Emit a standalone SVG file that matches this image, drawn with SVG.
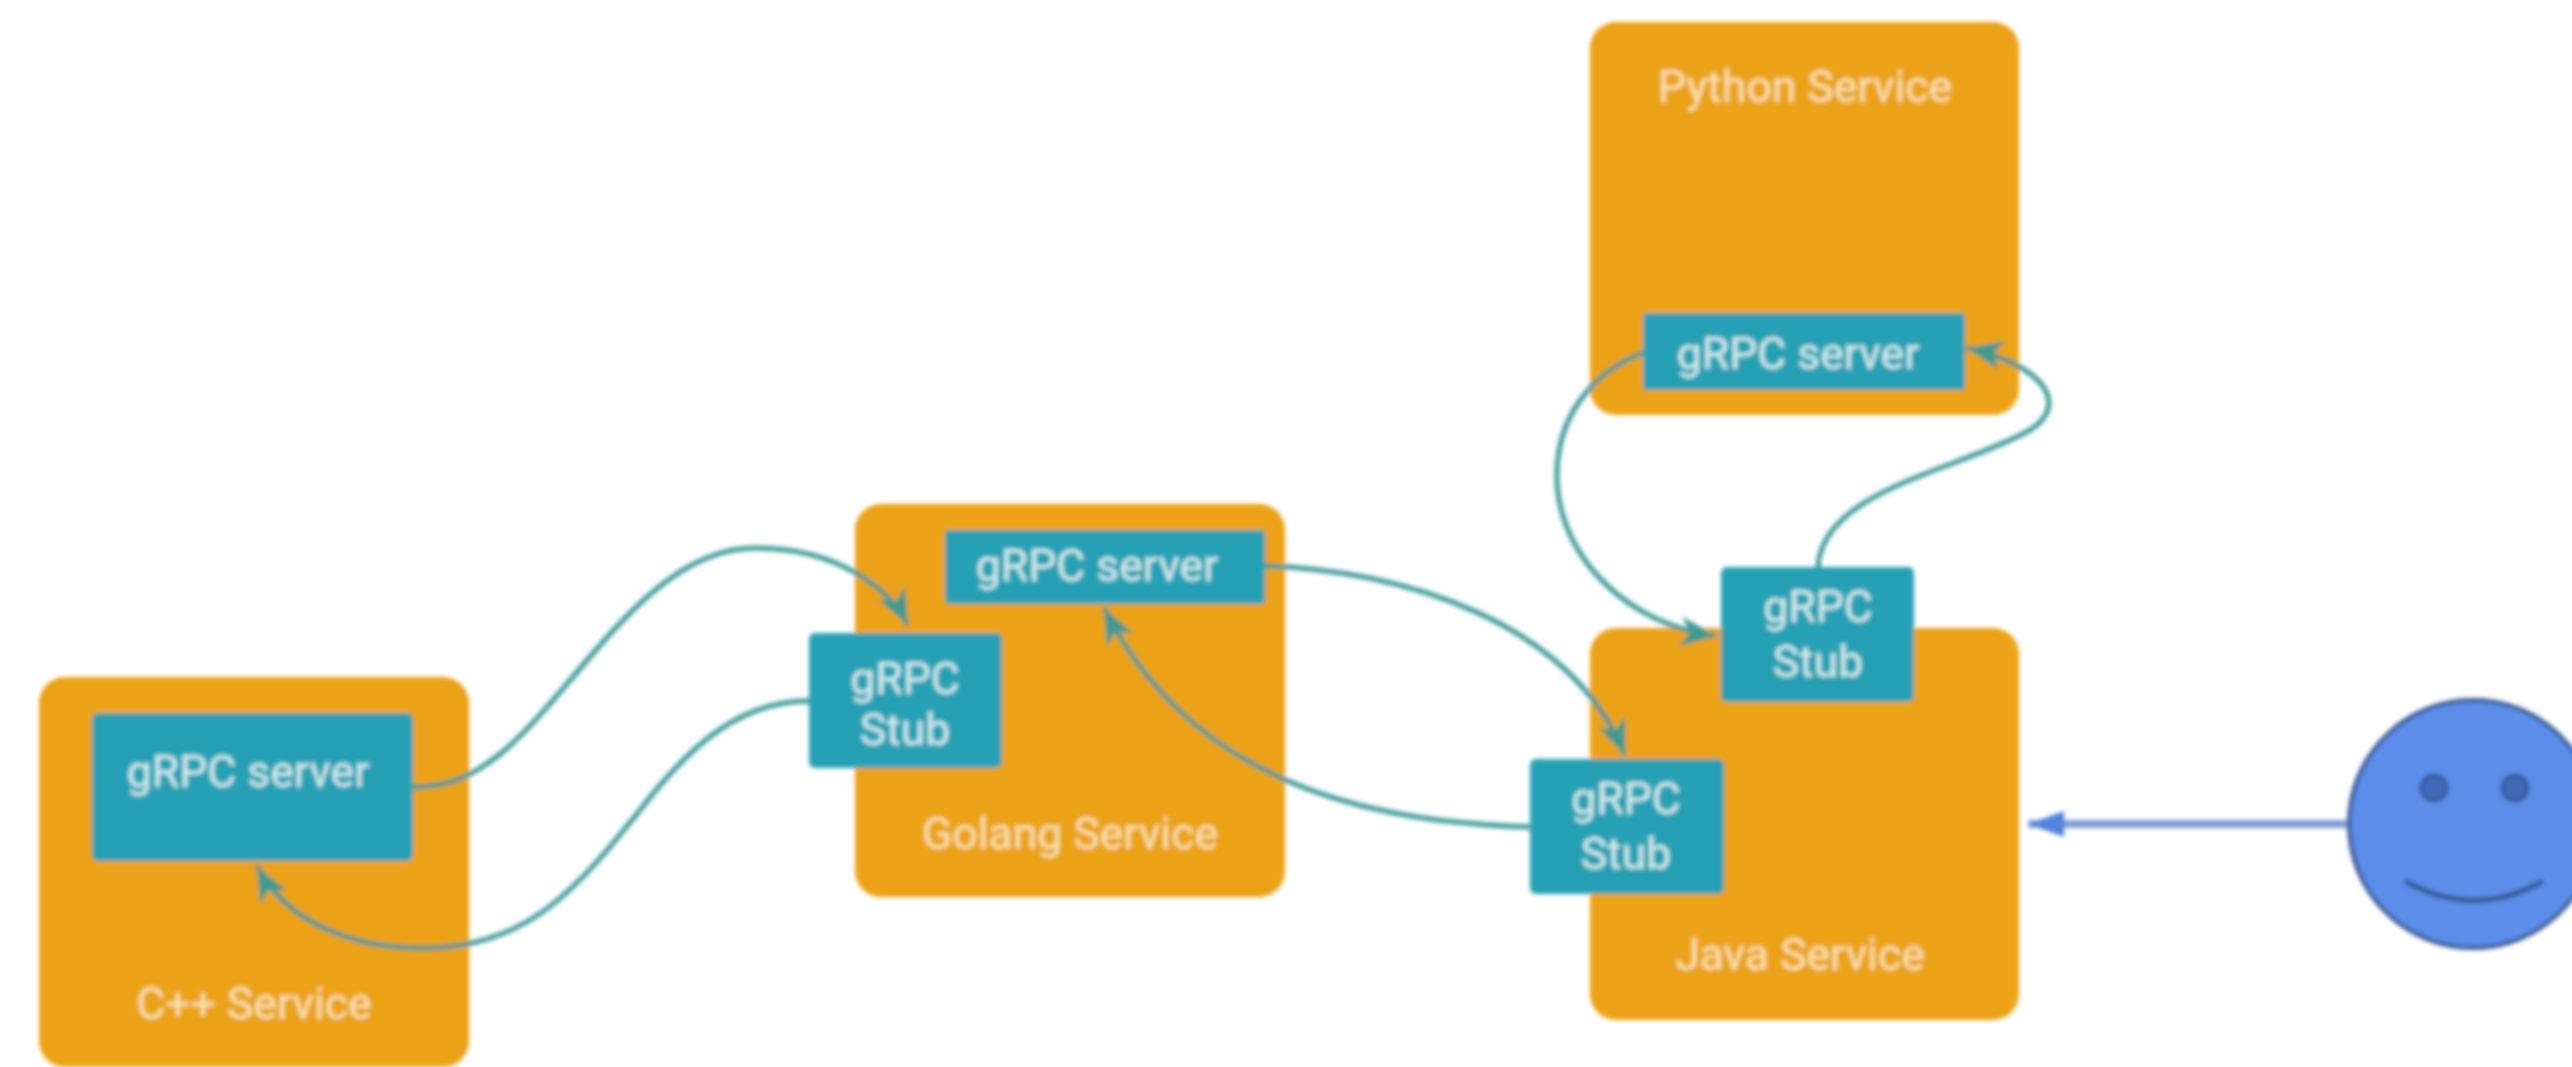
<svg xmlns="http://www.w3.org/2000/svg" width="2572" height="1067" viewBox="0 0 2572 1067">
<style>
.svc{fill:#EBA215}
.grpc{fill:#26A0B4}
text{font-family:Roboto,"Liberation Sans",sans-serif;font-size:44.5px;text-anchor:middle}
.sl{fill:#FAE3B0}
.gl{fill:#D5EFEF}
.c{fill:none;stroke:#3A9A98;stroke-width:5}
.a{fill:#3F9A90}
</style>
<defs>
<filter id="soft" x="-2%" y="-2%" width="104%" height="104%"><feGaussianBlur stdDeviation="2"/></filter>
<marker id="arr" markerUnits="userSpaceOnUse" markerWidth="42" markerHeight="34" refX="38" refY="17" orient="auto"><path class="a" d="M2 2 L38 17 L2 32 L12 17 Z"/></marker>
<marker id="arrb" markerUnits="userSpaceOnUse" markerWidth="40" markerHeight="30" refX="38" refY="15" orient="auto"><path fill="#4F82DC" d="M2 2 L38 15 L2 28 Z"/></marker>
</defs>
<rect width="2572" height="1067" fill="#fff"/>
<g filter="url(#soft)">
<g id="cpp-service"><rect class="svc" x="39" y="677" width="430" height="390" rx="26"/><text class="sl" x="254" y="1019">C++ Service</text></g>
<g id="golang-service"><rect class="svc" x="855" y="504" width="430" height="393" rx="26"/><text class="sl" x="1070" y="849">Golang Service</text></g>
<g id="java-service"><rect class="svc" x="1590" y="628" width="429" height="392" rx="26"/><text class="sl" x="1800" y="970">Java Service</text></g>
<g id="python-service"><rect class="svc" x="1590" y="22" width="429" height="393" rx="26"/><text class="sl" x="1805" y="102">Python Service</text></g>
<g id="connectors">
<path class="c" marker-end="url(#arr)" d="M413 787 C450 787 475 775 505 750 C580 685 650 548 755 548 C840 548 890 590 908 625"/>
<path class="c" marker-end="url(#arr)" d="M809 701 C740 701 690 745 640 810 C580 885 530 946 430 948 C350 950 285 920 257 866"/>
<path class="c" marker-end="url(#arr)" d="M1530 827 C1400 822 1200 800 1104 608"/>
<path class="c" marker-end="url(#arr)" d="M1265 566 C1400 570 1570 620 1625 755"/>
<path class="c" marker-end="url(#arr)" d="M1645 352 C1590 372 1555 420 1557 480 C1560 560 1630 625 1716 636"/>
<path class="c" marker-end="url(#arr)" d="M1818 567 C1822 490 1960 470 2030 430 C2070 405 2045 365 1967 348"/>
<path fill="none" stroke="#7F9FD6" stroke-width="8" marker-end="url(#arrb)" d="M2351 824 L2028 824"/>
</g>
<g id="cpp-server"><rect class="grpc" x="92" y="713" width="321" height="148" rx="6"/><text class="gl" x="248" y="787">gRPC server</text></g>
<g id="golang-server"><rect class="grpc" x="945" y="530" width="320" height="74" rx="4"/><text class="gl" x="1097" y="581">gRPC server</text></g>
<g id="golang-stub"><rect class="grpc" x="809" y="633" width="193" height="135" rx="6"/><text class="gl" x="905" y="694">gRPC</text><text class="gl" x="905" y="745">Stub</text></g>
<g id="java-stub-top"><rect class="grpc" x="1721" y="567" width="193" height="135" rx="6"/><text class="gl" x="1818" y="622">gRPC</text><text class="gl" x="1818" y="677">Stub</text></g>
<g id="java-stub-left"><rect class="grpc" x="1530" y="759" width="194" height="135" rx="6"/><text class="gl" x="1626" y="814">gRPC</text><text class="gl" x="1626" y="869">Stub</text></g>
<g id="python-server"><rect class="grpc" x="1643" y="313" width="322" height="77" rx="4"/><text class="gl" x="1798" y="369">gRPC server</text></g>
<g id="user">
<circle cx="2473" cy="824" r="124" fill="#5B8DE8" stroke="#34558F" stroke-width="4"/>
<circle cx="2434" cy="788" r="13" fill="#3F69B8" stroke="#34558F" stroke-width="3"/>
<circle cx="2515" cy="788" r="13" fill="#3F69B8" stroke="#34558F" stroke-width="3"/>
<path d="M2405 881 Q2474 920 2543 881" fill="none" stroke="#34558F" stroke-width="5"/>
</g>
</g>
</svg>
